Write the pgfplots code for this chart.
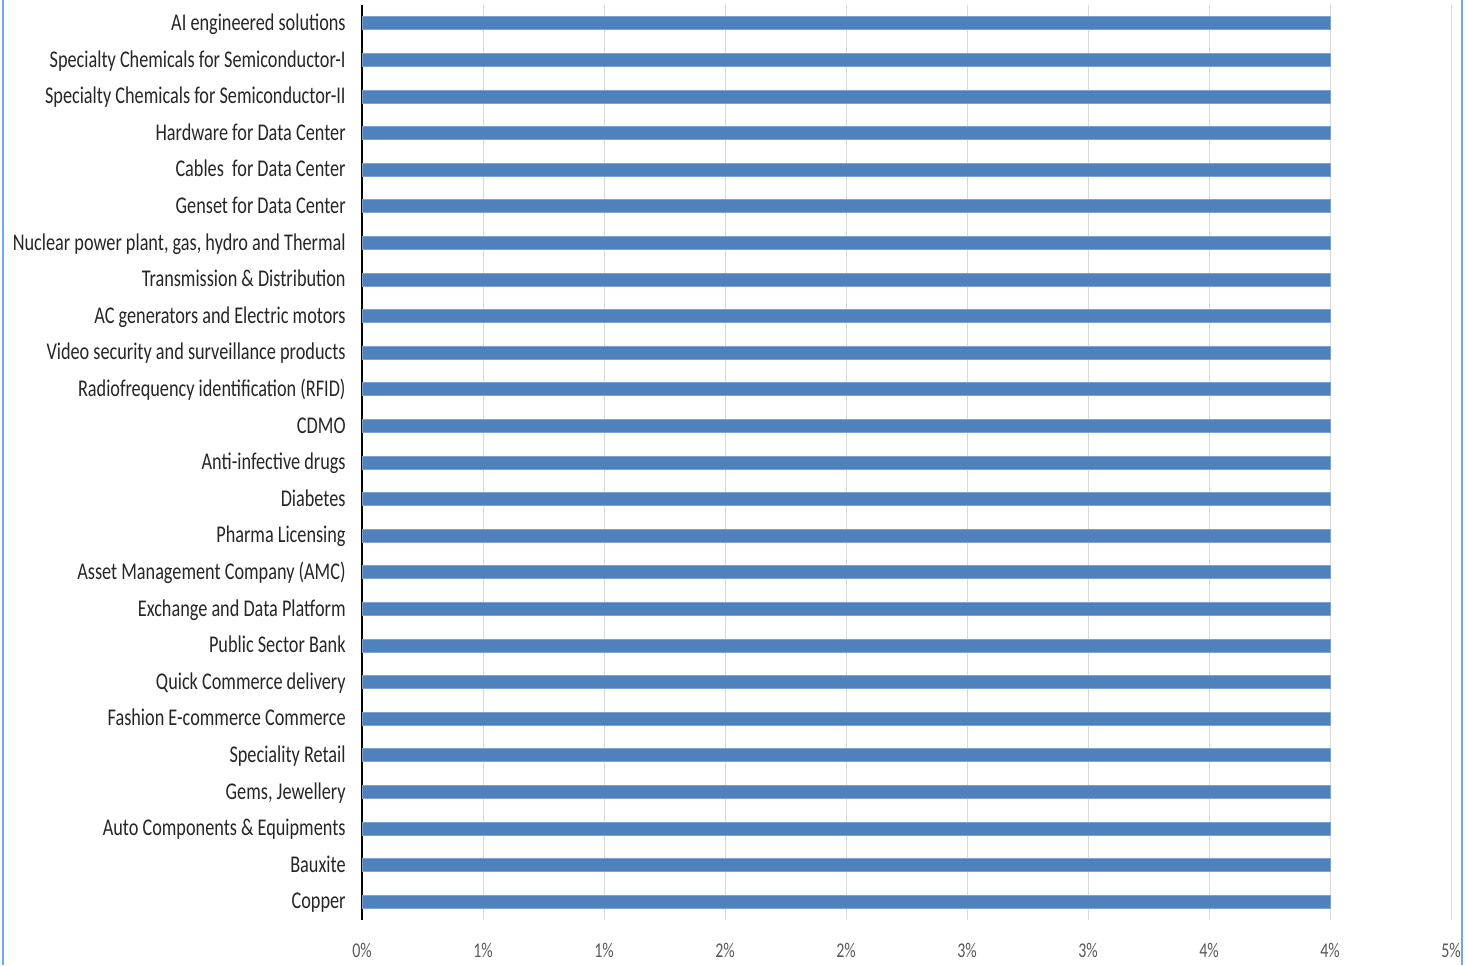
\documentclass[border=0pt]{standalone}
\usepackage{fontspec}
\setmainfont{Carlito}[FakeStretch=0.76]
\usepackage{pgfplots}
\pgfplotsset{compat=1.18}

\definecolor{barblue}{HTML}{4F81BD}
\definecolor{bardge}{HTML}{7FA3D1}
\definecolor{framebl}{HTML}{6FA8F0}
\definecolor{gridgr}{HTML}{D9D9D9}
\definecolor{ticktx}{HTML}{595959}
\definecolor{cattx}{HTML}{262626}

\begin{document}
\begin{tikzpicture}
% 1 px of the reference = 0.5pt
\useasboundingbox (0,0) rectangle (732.5pt,482.5pt);
\fill[white] (0,0) rectangle (732.5pt,482.5pt);
\draw[framebl, line width=0.75pt] (1.5pt,0) -- (1.5pt,482.5pt);
\draw[framebl, line width=0.75pt] (731pt,0) -- (731pt,482.5pt);

\begin{axis}[
    at={(181pt,22.5pt)}, anchor=south west,
    scale only axis,
    width=544.5pt, height=457.5pt,
    xmin=0, xmax=0.045,
    ymin=-0.5, ymax=24.5,
    y dir=reverse,
    axis y line=left, axis x line=bottom,
    axis line style={-},
    x axis line style={draw=none},
    y axis line style={black, line width=0.6pt},
    major tick length=0pt,
    xtick={0,0.005,0.01,0.015,0.02,0.025,0.03,0.035,0.04,0.045},
    xticklabels={0\%,1\%,1\%,2\%,2\%,3\%,3\%,4\%,4\%,5\%},
    xmajorgrids, grid style={gridgr, line width=0.5pt},
    ytick={0,...,24},
    yticklabels={
        AI engineered solutions,
        Specialty Chemicals for Semiconductor-I,
        Specialty Chemicals for Semiconductor-II,
        Hardware for Data Center,
        Cables\ \ for Data Center,
        Genset for Data Center,
        {Nuclear power plant, gas, hydro and Thermal},
        Transmission \& Distribution,
        AC generators and Electric motors,
        Video security and surveillance products,
        Radiofrequency identification (RFID),
        CDMO,
        Anti-infective drugs,
        Diabetes,
        Pharma Licensing,
        Asset Management Company (AMC),
        Exchange and Data Platform,
        Public Sector Bank,
        Quick Commerce delivery,
        Fashion E-commerce Commerce,
        Speciality Retail,
        {Gems, Jewellery},
        Auto Components \& Equipments,
        Bauxite,
        Copper},
    yticklabel style={font=\fontsize{12pt}{14pt}\selectfont, text=cattx, inner sep=0pt, anchor=base east, xshift=-8pt, yshift=-3.6pt},
    xticklabel style={font=\fontsize{10.5pt}{12pt}\selectfont, text=ticktx, inner sep=0pt, anchor=base, yshift=-18.5pt},
    /pgf/number format/assume math mode=true,
    xbar, bar width=6.5pt,
]
\addplot[fill=barblue, draw=bardge, line width=0.4pt] coordinates {
(0.04,0) (0.04,1) (0.04,2) (0.04,3) (0.04,4)
(0.04,5) (0.04,6) (0.04,7) (0.04,8) (0.04,9)
(0.04,10) (0.04,11) (0.04,12) (0.04,13) (0.04,14)
(0.04,15) (0.04,16) (0.04,17) (0.04,18) (0.04,19)
(0.04,20) (0.04,21) (0.04,22) (0.04,23) (0.04,24)
};
\end{axis}
\end{tikzpicture}
\end{document}
